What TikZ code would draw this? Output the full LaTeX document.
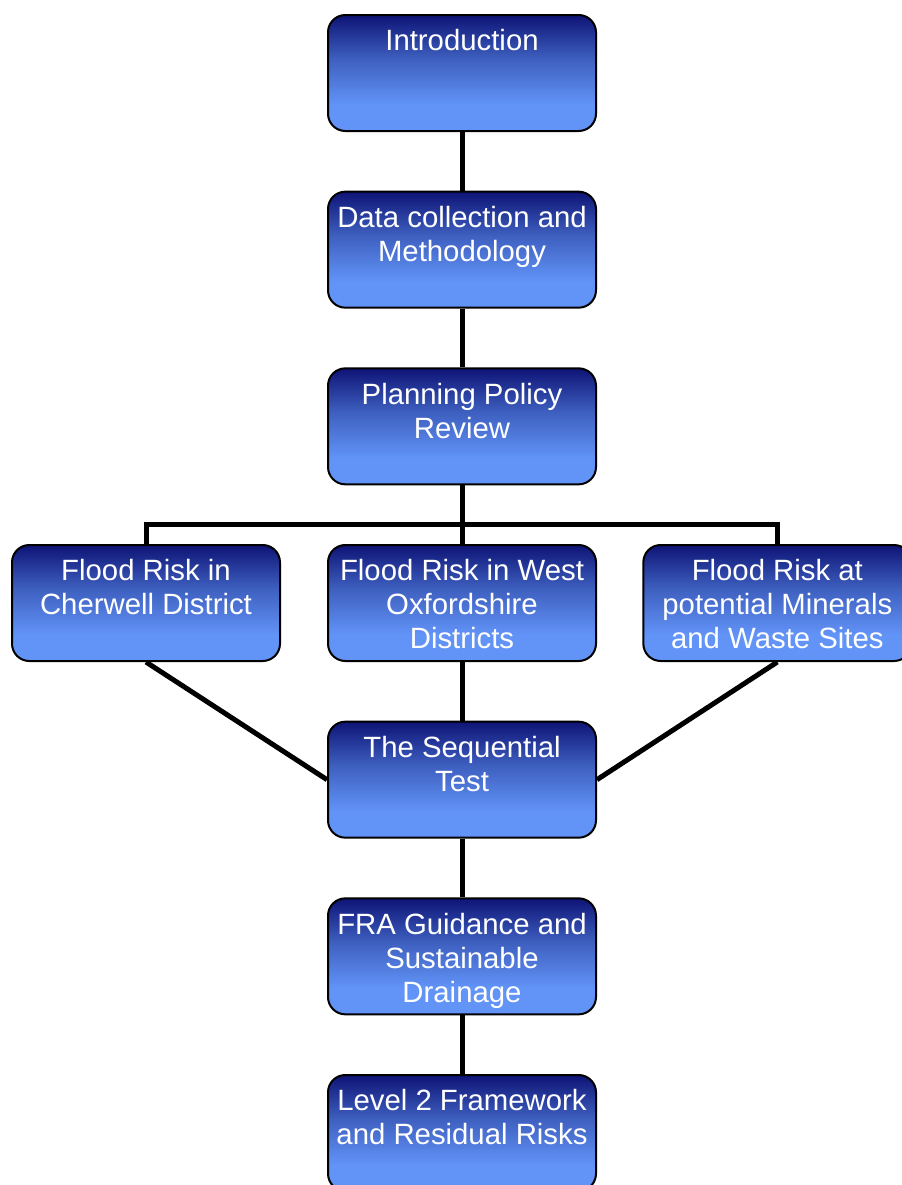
\documentclass[tikz,border=0pt]{standalone}
\usepackage{fontspec}
\setmainfont{Liberation Sans}
\usetikzlibrary{positioning}
\definecolor{BoxTop}{RGB}{14,20,118}
\definecolor{BoxMid}{RGB}{62,96,192}
\definecolor{BoxBottom}{RGB}{98,148,248}
\pgfdeclareverticalshading{boxshade}{100bp}{color(0bp)=(BoxBottom); color(36bp)=(BoxBottom); color(56bp)=(BoxMid); color(75bp)=(BoxTop); color(100bp)=(BoxTop)}

\begin{document}
\begin{tikzpicture}[
    node distance=44pt,
    stage/.style={rectangle, rounded corners=13pt, draw=black, line width=1.5pt,
        shade, shading=boxshade, minimum width=201pt, minimum height=87pt, inner sep=0pt},
    stagetext/.style={anchor=north, inner sep=0pt, yshift=-11.5pt, align=center,
        text=white, font=\fontsize{22}{25.5}\selectfont},
    link/.style={draw=black, line width=3.75pt},
]
\useasboundingbox (0,0) rectangle (675.75pt,-888.75pt);

% main column
\node[stage, anchor=north] (intro) at (346.5pt,-10.5pt) {};
\node[stage, below=of intro] (data) {};
\node[stage, below=of data] (policy) {};
\node[stage, below=of policy] (west) {};
\node[stage, left=34.5pt of west] (cherwell) {};
\node[stage, right=34pt of west] (minerals) {};
\node[stage, below=of west] (sequential) {};
\node[stage, below=of sequential] (fra) {};
\node[stage, below=of fra] (level) {};

% connectors
\draw[link] (intro) -- (data);
\draw[link] (data) -- (policy);
\draw[link] (policy) -- (west);
\path (policy.south) ++(0,-29pt) coordinate (split);
\draw[link] (cherwell.north) |- (split) -| (minerals.north);
\draw[link] (cherwell.south) -- (sequential.west);
\draw[link] (minerals.south) -- (sequential.east);
\draw[link] (west) -- (sequential);
\draw[link] (sequential) -- (fra);
\draw[link] (fra) -- (level);

% texts
\node[stagetext] (intro-t) at (intro.north) {Introduction};
\node[stagetext] (data-t) at (data.north) {Data collection and\\Methodology};
\node[stagetext] (policy-t) at (policy.north) {Planning Policy\\Review};
\node[stagetext] (cherwell-t) at (cherwell.north) {Flood Risk in\\Cherwell District};
\node[stagetext] (west-t) at (west.north) {Flood Risk in West\\Oxfordshire\\Districts};
\node[stagetext] (minerals-t) at (minerals.north) {Flood Risk at\\potential Minerals\\and Waste Sites};
\node[stagetext] (sequential-t) at (sequential.north) {The Sequential\\Test};
\node[stagetext] (fra-t) at (fra.north) {FRA Guidance and\\Sustainable\\Drainage};
\node[stagetext] (level-t) at (level.north) {Level 2 Framework\\and Residual Risks};
\end{tikzpicture}
\end{document}
